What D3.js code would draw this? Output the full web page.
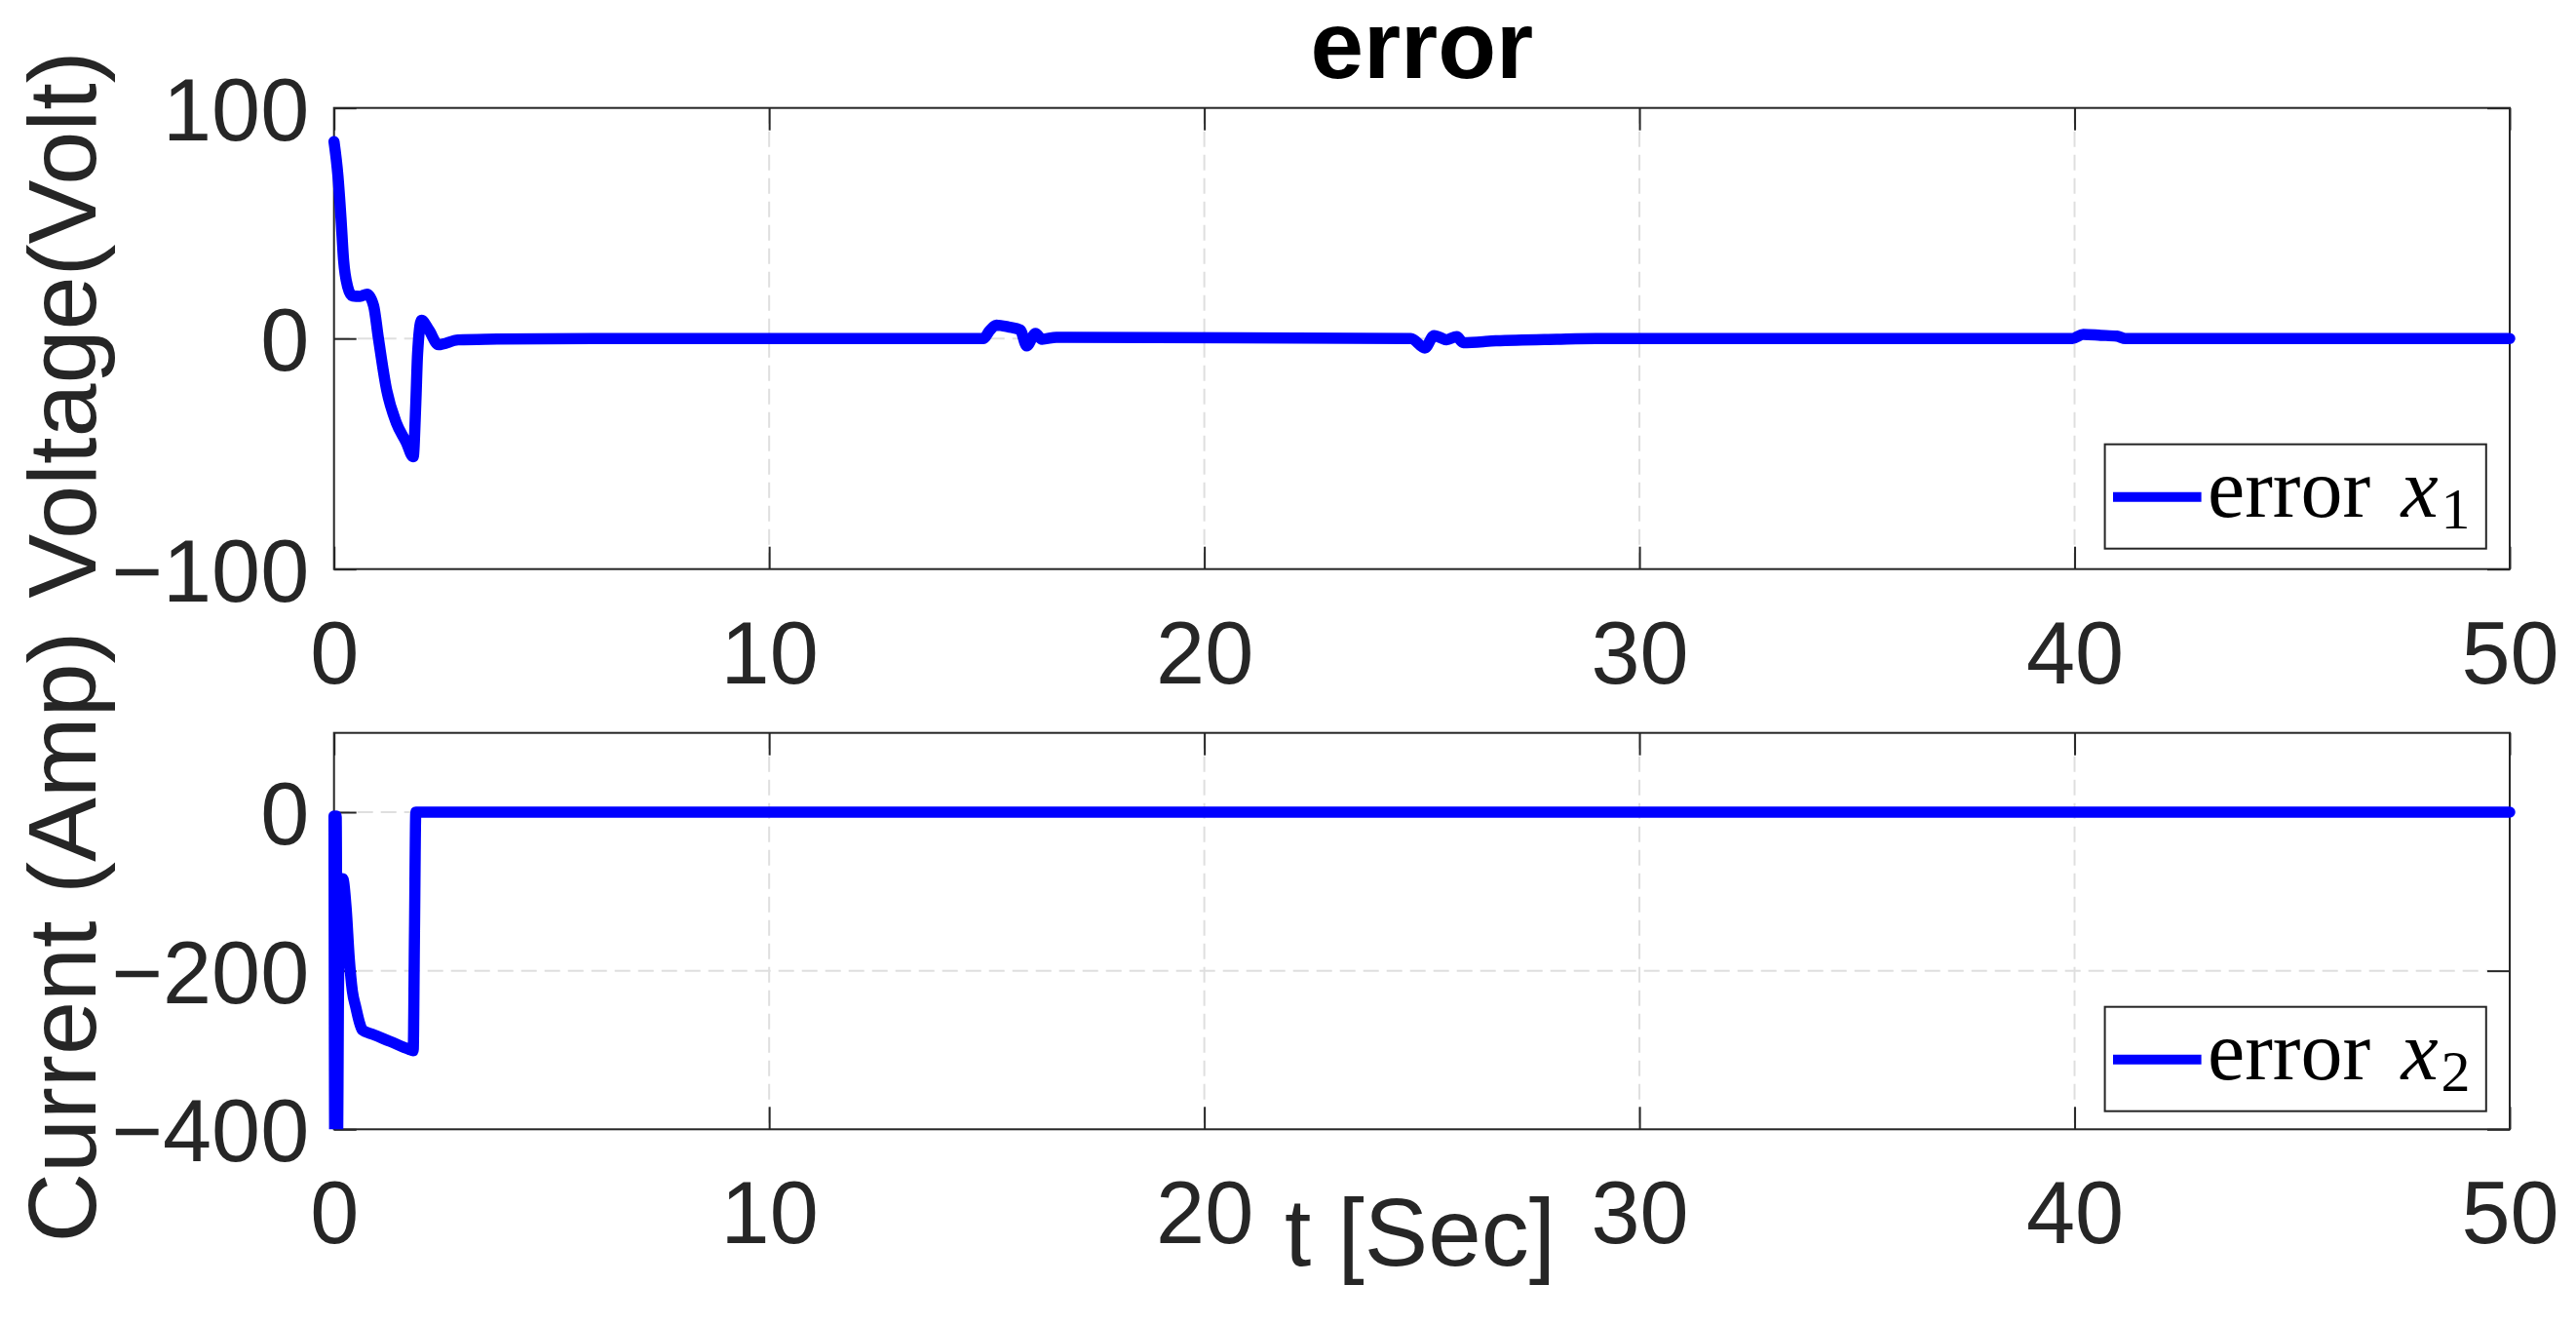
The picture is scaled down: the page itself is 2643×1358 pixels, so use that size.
<!DOCTYPE html>
<html>
<head>
<meta charset="utf-8">
<script src="https://cdn.jsdelivr.net/npm/d3@7"></script>
<style>
  body { margin: 0; background: #fff; }
  svg { display: block; }
  text { font-family: "Liberation Sans", Arial, sans-serif; fill: #262626; }
  .legend text { font-family: "Liberation Serif", "Times New Roman", serif; fill: #000; }
</style>
</head>
<body>
<script>
// shared time axis
var xTicks = [0, 10, 20, 30, 40, 50];

// error x1 (voltage), upper panel
var t1 = [0, 0.09, 0.16, 0.22, 0.31, 0.42, 0.6, 0.76, 0.91, 1.02,
          1.21, 1.43, 1.66, 1.82, 1.88, 1.92, 2.01, 2.18, 2.4, 2.85,
          3.5, 6, 14.93, 15.05, 15.22, 15.5, 15.77, 15.92, 16.12, 16.27,
          16.6, 24.75, 25.07, 25.28, 25.57, 25.8, 25.95, 26.7, 28.1, 29,
          39.95, 40.2, 40.6, 40.97, 41.17, 50];
var v1 = [85.4, 70.6, 52.3, 34, 22.7, 18.5, 18.3, 19.2, 14.2, 0.1,
          -22.4, -36.5, -45, -51.3, -28, -6.9, 7.9, 3.7, -2.7, -0.6,
          -0.3, 0, 0, 3, 5.8, 5, 3.7, -3.2, 2.2, -0.3,
          0.5, 0, -4.1, 1.3, -0.5, 0.8, -1.8, -1, -0.3, 0,
          0, 1.8, 1.4, 1, 0, 0];
var yTicks1 = [-100, 0, 100];

// error x2 (current), lower panel
var t2 = [0, 0.02, 0.05, 0.08, 0.1, 0.14, 0.2, 0.28, 0.35, 0.42,
          0.5, 0.6, 0.65, 0.91, 1.28, 1.73, 1.82, 1.85, 1.88, 2.5, 50];
var v2 = [-5, -450, -5, -450, -250, -110, -84, -122, -184, -225,
          -245.8, -268, -274.6, -280.7, -288.9, -299.2, -301, -150, 0, 0, 0];
var yTicks2 = [-400, -200, 0];

var W = 2643, H = 1358;
var ink = '#262626';

var svg = d3.select('body').append('svg')
    .attr('width', W)
    .attr('height', H);

var defs = svg.append('defs');

panel({
    id: 'p1', left: 342.7, right: 2575, top: 110.7, bottom: 583.7,
    domain: [-100, 100], ticks: yTicks1, t: t1, v: v1,
    ylabel: 'Voltage(Volt)', labelY: 333,
    legend: {x: 2159.6, y: 455.7, sub: '1'}
});

panel({
    id: 'p2', left: 342.7, right: 2575, top: 751.7, bottom: 1158.3,
    domain: [-400, 100], ticks: yTicks2, t: t2, v: v2,
    ylabel: 'Current (Amp)', labelY: 961,
    legend: {x: 2159.6, y: 1032.7, sub: '2'}
});

svg.append('text')
    .attr('x', 1458.8)
    .attr('y', 80)
    .attr('text-anchor', 'middle')
    .style('font-weight', 'bold')
    .style('font-size', '98px')
    .style('fill', '#000')
    .text('error');

svg.append('text')
    .attr('x', 1457)
    .attr('y', 1298)
    .attr('text-anchor', 'middle')
    .style('font-size', '98px')
    .text('t [Sec]');

function panel(c) {
    var x = d3.scaleLinear().domain([0, 50]).range([c.left, c.right]);
    var y = d3.scaleLinear().domain(c.domain).range([c.bottom, c.top]);
    var g = svg.append('g');

    // dashed grid
    g.selectAll('line.gx')
        .data(xTicks.slice(1, -1))
        .enter().append('line')
        .attr('x1', x).attr('x2', x)
        .attr('y1', c.top).attr('y2', c.bottom)
        .call(grid);
    g.selectAll('line.gy')
        .data(c.ticks.filter(function (d) { return d > c.domain[0] && d < c.domain[1]; }))
        .enter().append('line')
        .attr('x1', c.left).attr('x2', c.right)
        .attr('y1', y).attr('y2', y)
        .call(grid);

    // axes, ticks pointing inward on all four sides
    g.append('g')
        .attr('transform', 'translate(0,' + c.bottom + ')')
        .call(d3.axisBottom(x).tickValues(xTicks).tickSizeInner(-23).tickSizeOuter(0).tickPadding(53))
        .call(axisStyle);
    g.append('g')
        .attr('transform', 'translate(0,' + c.top + ')')
        .call(d3.axisTop(x).tickValues(xTicks).tickSizeInner(-23).tickSizeOuter(0).tickFormat(''))
        .call(axisStyle);
    g.append('g')
        .attr('transform', 'translate(' + c.left + ',0)')
        .call(d3.axisLeft(y).tickValues(c.ticks).tickSizeInner(-23).tickSizeOuter(0).tickPadding(25.5))
        .call(axisStyle)
        .selectAll('text').attr('dy', '0.36em');
    g.append('g')
        .attr('transform', 'translate(' + c.right + ',0)')
        .call(d3.axisRight(y).tickValues(c.ticks).tickSizeInner(-23).tickSizeOuter(0).tickFormat(''))
        .call(axisStyle);

    g.append('rect')
        .attr('x', c.left).attr('y', c.top)
        .attr('width', c.right - c.left).attr('height', c.bottom - c.top)
        .attr('fill', 'none')
        .attr('stroke', ink)
        .attr('stroke-width', 2);

    g.append('text')
        .attr('transform', 'translate(98,' + c.labelY + ') rotate(-90)')
        .attr('text-anchor', 'middle')
        .style('font-size', '99px')
        .text(c.ylabel);

    // data line, clipped vertically to the axes box
    defs.append('clipPath').attr('id', 'clip-' + c.id)
        .append('rect')
        .attr('x', c.left - 20).attr('y', c.top)
        .attr('width', c.right - c.left + 40).attr('height', c.bottom - c.top);

    var line = d3.line()
        .x(function (d, i) { return x(c.t[i]); })
        .y(function (d) { return y(d); })
        .curve(d3.curveMonotoneX);

    g.append('path')
        .attr('clip-path', 'url(#clip-' + c.id + ')')
        .attr('d', line(c.v))
        .attr('fill', 'none')
        .attr('stroke', '#0000ff')
        .attr('stroke-width', 11.5)
        .attr('stroke-linejoin', 'round')
        .attr('stroke-linecap', 'round');

    // legend
    var lg = g.append('g')
        .classed('legend', true)
        .attr('transform', 'translate(' + c.legend.x + ',' + c.legend.y + ')');
    lg.append('rect')
        .attr('width', 391.2).attr('height', 107)
        .attr('fill', '#fff')
        .attr('stroke', ink)
        .attr('stroke-width', 2);
    lg.append('line')
        .attr('x1', 8.4).attr('x2', 99)
        .attr('y1', 54).attr('y2', 54)
        .attr('stroke', '#0000ff')
        .attr('stroke-width', 10);
    lg.append('text')
        .attr('x', 105.4).attr('y', 74.5)
        .style('font-size', '86px')
        .text('error');
    lg.append('text')
        .attr('x', 304).attr('y', 74.5)
        .style('font-size', '86px')
        .style('font-style', 'italic')
        .text('x');
    lg.append('text')
        .attr('x', 345).attr('y', 86)
        .style('font-size', '60px')
        .text(c.legend.sub);
}

function grid(sel) {
    sel.attr('stroke', '#dfdfdf')
        .attr('stroke-width', 2)
        .attr('stroke-dasharray', '16,8');
}

function axisStyle(sel) {
    sel.select('.domain').remove();
    sel.selectAll('.tick line')
        .attr('stroke', ink)
        .attr('stroke-width', 2);
    sel.selectAll('.tick text')
        .style('font-size', '90px')
        .style('font-family', '"Liberation Sans", Arial, sans-serif')
        .attr('fill', ink);
}
</script>
</body>
</html>
